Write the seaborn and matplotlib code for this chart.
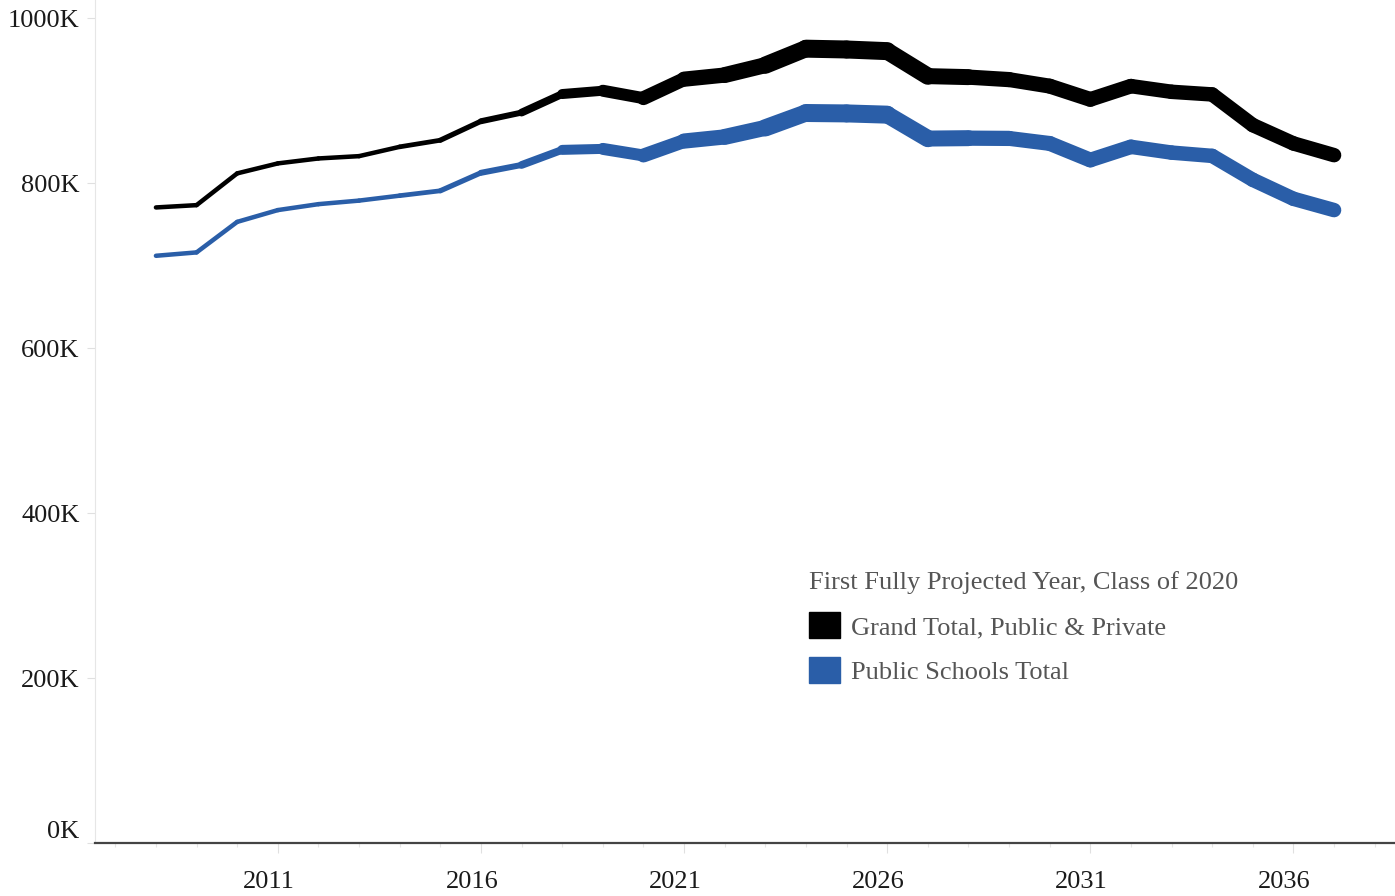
import matplotlib
matplotlib.use("Agg")
import matplotlib.pyplot as plt
from matplotlib.patches import Patch
from matplotlib.transforms import ScaledTranslation
import numpy as np
import pandas as pd
import seaborn as sns

# data (enrollment, thousands)
years = list(range(2008, 2038))
grand_total_k = [770.5, 773.3, 811.8, 823.9, 829.9, 832.7, 844.0, 852.0, 875.0, 885.5,
                 908.0, 912.0, 903.0, 926.0, 931.0, 943.0, 963.0, 962.0, 960.0, 929.7,
                 928.5, 925.5, 917.6, 901.5, 917.6, 910.7, 907.5, 870.3, 848.1, 833.9]
public_total_k = [711.9, 716.0, 753.0, 767.3, 774.5, 778.8, 784.8, 790.7, 812.5, 822.0,
                  840.3, 841.5, 833.5, 851.0, 856.0, 867.0, 885.0, 884.5, 883.0, 854.0,
                  854.5, 854.2, 848.1, 828.0, 844.0, 837.0, 833.0, 804.0, 781.0, 767.3]
series_names = ["Grand Total, Public & Private", "Public Schools Total"]
legend_title = "First Fully Projected Year, Class of 2020"

# styling
colors = {"Grand Total, Public & Private": "#000000", "Public Schools Total": "#2A5EA8"}
line_px = [4.5, 4.5, 4.5, 4.5, 4.5, 4.5, 4.5, 5.0, 5.5, 6.5,
           9.0, 11.0, 13.0, 15.0, 15.5, 16.5, 18.0, 18.0, 18.0, 16.5,
           15.5, 15.0, 15.0, 15.0, 14.5, 14.5, 14.5, 14.5, 14.5, 14.5]

# one short line per segment so the width can change along the series
rows = []
for name, vals in zip(series_names, [grand_total_k, public_total_k]):
    for i in range(len(years) - 1):
        w = round((line_px[i] + line_px[i + 1]) / 2 * 0.72, 2)
        for j in (i, i + 1):
            rows.append({"series": name, "seg": name + "-" + str(i), "year": years[j],
                         "value": vals[j] * 1000, "width": w})
df = pd.DataFrame(rows)

sns.set_theme(style="white")
plt.rcParams["font.family"] = ["Liberation Serif", "DejaVu Serif"]

fig = plt.figure(figsize=(13.95, 8.96), dpi=100)
ax = fig.add_axes([95 / 1395, 53 / 896, 1 - 95 / 1395, 1 - 53 / 896])

sns.lineplot(data=df, x="year", y="value", hue="series", units="seg", size="width",
             sizes={w: w for w in df["width"].unique()}, estimator=None, sort=False,
             palette=colors, hue_order=series_names, legend=False, ax=ax,
             solid_capstyle="round", solid_joinstyle="round")

ax.set_xlim(2006.5, 2038.5)
ax.set_ylim(0, 1022000)
ax.set_xlabel("")
ax.set_ylabel("")

ax.set_xticks(range(2011, 2037, 5))
ax.set_xticks(range(2007, 2039), minor=True)
yt = list(range(0, 1000001, 200000))
ax.set_yticks(yt)
ax.set_yticklabels([f"{v // 1000}K" for v in yt])

for s in ["top", "right"]:
    ax.spines[s].set_visible(False)
ax.spines["bottom"].set_color("#444444")
ax.spines["bottom"].set_linewidth(1.6)
ax.spines["left"].set_color("#e6e6e6")
ax.spines["left"].set_linewidth(0.8)

ax.tick_params(axis="x", which="major", bottom=True, length=7, width=0.8, color="#e0e0e0",
               labelsize=19, pad=13, labelcolor="#1a1a1a")
ax.tick_params(axis="x", which="minor", bottom=True, length=3, width=0.8, color="#e6e6e6")
ax.tick_params(axis="y", left=True, length=6, width=0.8, color="#e0e0e0",
               labelsize=19, pad=5, labelcolor="#1a1a1a")

shift = ScaledTranslation(-0.09, 0, fig.dpi_scale_trans)
for lab in ax.get_xticklabels():
    lab.set_transform(lab.get_transform() + shift)
ax.get_yticklabels()[0].set_va("bottom")

handles = [Patch(facecolor=colors[n], edgecolor=colors[n], label=n) for n in series_names]
leg = ax.legend(handles=handles, title=legend_title, loc="upper left",
                bbox_to_anchor=(806 / 1395, 1 - 568 / 896), bbox_transform=fig.transFigure,
                frameon=False, fontsize=19, title_fontsize=19, handlelength=1.15,
                handleheight=1.15, handletextpad=0.45, labelspacing=0.68, borderpad=0.12,
                borderaxespad=0, alignment="left", labelcolor="#555555")
leg.get_title().set_color("#555555")

fig.savefig("out.png", dpi=100)
plt.close(fig)
